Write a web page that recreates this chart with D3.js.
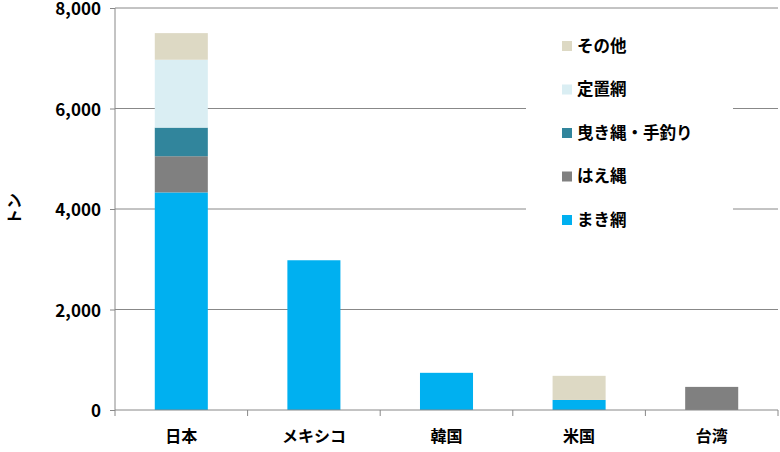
<!DOCTYPE html><html><head><meta charset="utf-8"><script src="https://cdn.jsdelivr.net/npm/d3@7"></script>
<style>body{margin:0;background:#fff}text{font-family:"Noto Sans CJK JP",sans-serif;font-weight:bold}</style></head><body>
<svg id="c" width="780" height="452"></svg>
<script>
const categories=["日本","メキシコ","韓国","米国","台湾"];
const seriesNames=["まき網","はえ縄","曳き縄・手釣り","定置網","その他"];
const colors=["#00B0F0","#808080","#31859C","#DAEEF3","#DDD9C4"];
const makiami=[4330,2980,740,200,0];
const haenawa=[720,0,0,0,460];
const hikinawa=[570,0,0,0,0];
const teichi=[1350,0,0,0,0];
const sonota=[530,0,0,480,0];
const yTicks=[0,2000,4000,6000,8000];
const vals=[makiami,haenawa,hikinawa,teichi,sonota];
const svg=d3.select("#c");
const L=115,R=778,T=8,B=410;
const x=d3.scaleBand().domain(categories).range([L,R]).paddingInner(0.6).paddingOuter(0.3);
const y=d3.scaleLinear().domain([0,8000]).range([B,T]);
svg.append("g").selectAll("line").data(yTicks.slice(1)).join("line")
 .attr("x1",L).attr("x2",R).attr("y1",d=>y(d)).attr("y2",d=>y(d)).attr("stroke","#888").attr("stroke-width",1);
const data=categories.map((c,i)=>{const o={cat:c};seriesNames.forEach((s,j)=>o[s]=vals[j][i]);return o;});
const st=d3.stack().keys(seriesNames)(data);
st.forEach((s,j)=>svg.append("g").attr("fill",colors[j]).selectAll("rect").data(s).join("rect")
 .attr("x",d=>x(d.data.cat)).attr("width",x.bandwidth()).attr("y",d=>y(d[1])).attr("height",d=>y(d[0])-y(d[1])));
svg.append("line").attr("x1",L).attr("x2",L).attr("y1",T).attr("y2",B).attr("stroke","#888");
svg.append("line").attr("x1",L).attr("x2",R).attr("y1",B).attr("y2",B).attr("stroke","#888");
const ya=svg.append("g").attr("transform",`translate(${L},0)`).call(d3.axisLeft(y).tickValues(yTicks).tickFormat(d3.format(",")).tickSize(5));
ya.select(".domain").remove();ya.selectAll("line").attr("stroke","#888");
ya.selectAll("text").attr("font-size",17).attr("font-family","DejaVu Sans").attr("fill","#000").attr("x",-14).attr("dy","0.4em");
const xa=svg.append("g").attr("transform",`translate(0,${B})`).call(d3.axisBottom(x).tickSize(0));
xa.select(".domain").remove();xa.selectAll("text").attr("font-size",16).attr("fill","#000").attr("dy","1.8em");
svg.append("g").selectAll("line").data(d3.range(categories.length+1)).join("line")
 .attr("x1",i=>L+i*(R-L)/categories.length).attr("x2",i=>L+i*(R-L)/categories.length).attr("y1",B).attr("y2",B+6).attr("stroke","#888");
svg.append("text").attr("transform","translate(20,209) rotate(-90)").attr("text-anchor","middle").attr("font-size",16).text("トン");
svg.append("rect").attr("x",526).attr("y",26).attr("width",207).attr("height",210).attr("fill","#fff");
const lg=seriesNames.map((s,j)=>({s,c:colors[j]})).reverse();
lg.forEach((d,i)=>{const yy=46+i*43.5;
 svg.append("rect").attr("x",562).attr("y",yy-5).attr("width",10).attr("height",10).attr("fill",d.c);
 svg.append("text").attr("x",577).attr("y",yy).attr("dy","0.36em").attr("font-size",16.5).text(d.s);});
</script></body></html>
